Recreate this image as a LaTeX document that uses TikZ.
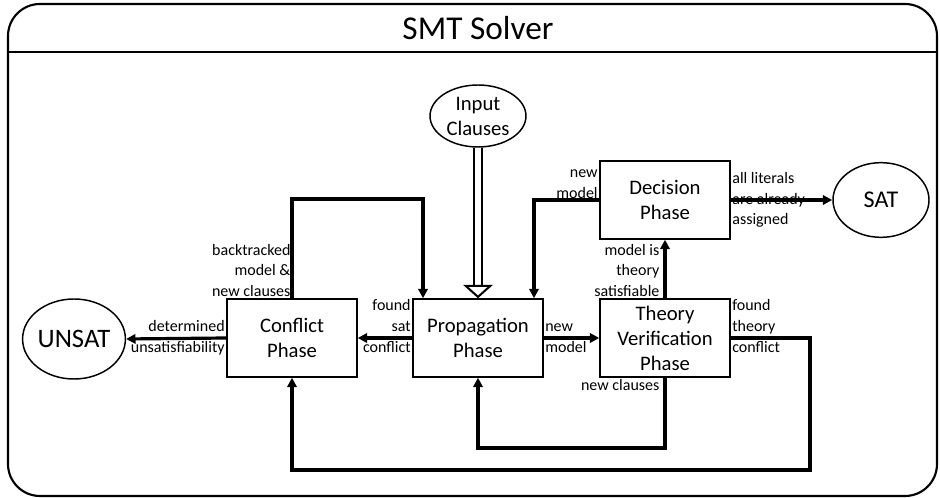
\documentclass[tikz,border=0pt]{standalone}
\usepackage{fontspec}
\setmainfont{Carlito}
\usetikzlibrary{arrows.meta,positioning,shapes.geometric}
\tikzset{>={Triangle[length=7pt,width=7pt]},every node/.style={font=\fontsize{12}{15.5}\selectfont},
 phase/.style={draw,line width=1.1pt,minimum width=97.5pt,minimum height=58.5pt,
 align=center,font=\fontsize{15.5}{18.75}\selectfont},
 endstate/.style={ellipse,draw,line width=1.1pt,inner sep=0pt,align=center,
 font=\fontsize{15.5}{18.75}\selectfont}}
\begin{document}
\begin{tikzpicture}[x=0.75pt,y=-0.75pt,
 flow/.style={line width=2.4pt,->},
 lab/.style={inner sep=1pt,align=left},
 rlab/.style={inner sep=1pt,align=right}]
\useasboundingbox (0,0) rectangle (940,498);
% Outer frame with the title strip on top.
\draw[line width=1.6pt,rounded corners=24pt] (8,4) rectangle (937,496);
\draw[line width=1.2pt] (8,52)--(937,52);
\node[font=\fontsize{25}{29}\selectfont] (title) at (478,28) {SMT Solver};
% Phases and end states.
\node[endstate,minimum width=72pt,minimum height=46.5pt] (inp) at (478,116) {Input\\Clauses};
\node[phase] (prop) at (478,338) {Propagation\\Phase};
\node[phase] (conf) at (292,338) {Conflict\\Phase};
\node[phase] (dec) at (665,200) {Decision\\Phase};
\node[phase] (theo) at (665,338) {Theory\\Verification\\Phase};
\node[endstate,minimum width=71pt,minimum height=60pt,font=\fontsize{20}{24}\selectfont]
 (unsat) at (74,339) {UNSAT};
\node[endstate,minimum width=72pt,minimum height=56pt,font=\fontsize{18}{22}\selectfont]
 (sat) at (881,200) {SAT};
% Input clauses enter as a hollow double arrow.
\draw[double,double distance=4pt,line width=1.5pt,
 -{Triangle[open,length=10pt,width=22pt]}] (inp.south)--(prop.north);
% Straight connectors.
\foreach \a/\b in {prop.west/conf.east,conf.west/unsat.east,prop.east/theo.west,
 theo.north/dec.south,dec.east/sat.west}
 {\draw[flow] (\a)--(\b);}
% Loops back into the propagation and conflict phases.
\coordinate (bt) at (423,199);
\coordinate (nm) at (534,200);
\coordinate (nc) at (0,448);
\coordinate (tc) at (810,470);
\draw[flow] (conf.north) |- (bt) -- (bt |- prop.north);
\draw[flow] (dec.west) -| (nm |- prop.north);
\draw[flow] (theo.south) |- (prop.south |- nc) -- (prop.south);
\draw[flow] (theo.east) -| (tc) -| (conf.south);
% Connector labels.
\node[rlab,anchor=south east] (lbt) at (conf.north) {backtracked\\model \&\\new clauses};
\node[rlab,anchor=north east] (lfs) at (prop.north west) {found\\sat\\conflict};
\node[rlab,anchor=east] (lun) at (conf.west) {determined\\unsatisfiability};
\node[lab,anchor=west] (lnm) at (prop.east) {new\\model};
\node[rlab,anchor=south east] (ldm) at (dec.west) {new\\model};
\node[lab,anchor=west] (lal) at (dec.east) {all literals\\are already\\assigned};
\node[rlab,anchor=south east] (lts) at ([xshift=-3pt]theo.north) {model is\\theory\\satisfiable};
\node[lab,anchor=north west] (ltc) at (theo.north east) {found\\theory\\conflict};
\node[rlab,anchor=north east] (lnc) at ([xshift=-3pt]theo.south) {new clauses};
\end{tikzpicture}
\end{document}
